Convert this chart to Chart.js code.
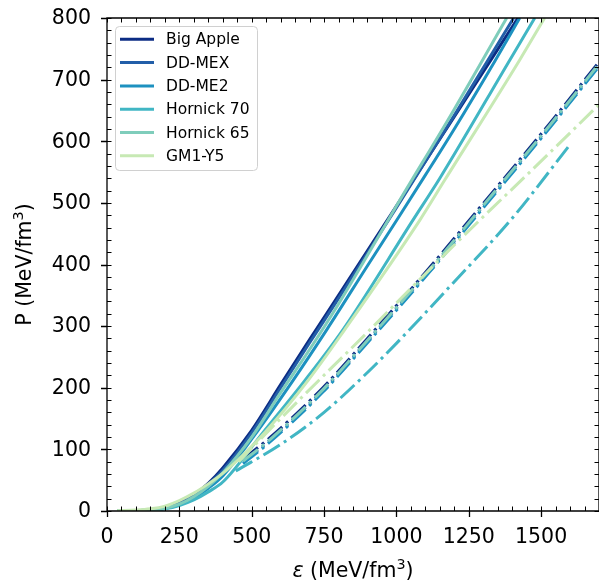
<!DOCTYPE html>
<html>
<head>
<meta charset="utf-8">
<script src="https://cdn.jsdelivr.net/npm/chart.js@4.4.1/dist/chart.umd.min.js"></script>
<style>
html, body { margin: 0; padding: 0; background: #fff; }
#wrap { width: 599px; height: 581px; }
</style>
</head>
<body>
<div id="wrap"><canvas id="chart" width="599" height="581"></canvas></div>
<script>
// Data: [energy density eps (MeV/fm^3), pressure P (MeV/fm^3)]
const models = ['Big Apple', 'DD-MEX', 'DD-ME2', 'Hornick 70', 'Hornick 65', 'GM1-Y5'];

const bigApple = [[35,0.3],[100,0.8],[150,1.5],[200,5],[250,13],[300,26],[350,45],[400,70],[500,131],[600,205],[700,278],[800,350],[1000,495],[1200,640],[1420,800]];
const ddMex = [[35,0.3],[100,0.8],[150,1.5],[200,4.5],[250,12],[300,24],[350,43],[400,66],[500,127],[600,200],[700,273],[800,345],[1000,492],[1200,642],[1405,800]];
const ddMe2 = [[35,0.3],[100,0.8],[150,1.5],[200,4],[250,10],[300,21],[350,37],[400,57],[522,131],[643,212],[759,294],[900,398],[1012,480],[1100,545],[1200,620],[1340,730],[1426,800]];
const hornick70 = [[35,0.2],[100,0.6],[150,1.2],[200,3.5],[250,9],[300,18],[350,31],[400,47],[540,128],[684,212],[815,294],[1057,472],[1150,540],[1392,732],[1478,800]];
const hornick65 = [[35,0.3],[100,0.8],[150,1.5],[200,4.5],[250,11],[300,23],[350,40],[400,62],[500,120],[600,192],[700,262],[800,336],[900,415],[1000,495],[1200,652],[1381,800]];
const gm1y5 = [[35,0.5],[100,1.5],[150,3.5],[200,8],[250,17],[300,29],[350,44],[400,61],[450,82],[550,130],[695,212],[821,294],[1081,472],[1167,537],[1426,732],[1512,800]];

// dash-dot branches
const bigAppleDash = [[470,84],[563,119],[746,200],[900,280],[1115,395],[1300,499],[1530,629],[1699,728]];
const ddMexDash = [[470,80],[563,115],[746,196],[900,276],[1115,391],[1300,495],[1530,625],[1699,724]];
const ddMe2Dash = [[470,77],[563,112],[746,193],[900,273],[1115,388],[1300,492],[1530,622],[1699,721]];
const hornick70Dash = [[445,65],[600,108],[750,160],[874,213],[1000,272],[1184,364],[1400,475],[1599,594]];
const hornick65Dash = [[470,81],[563,116],[746,197],[900,277],[1115,392],[1300,496],[1530,626],[1699,725]];
const gm1y5Dash = [[455,80],[600,150],[760,225],[900,290],[1100,385],[1277,467],[1461,550],[1699,659]];

const solidCurves = [bigApple, ddMex, ddMe2, hornick70, hornick65, gm1y5];
const dashCurves = [bigAppleDash, ddMexDash, ddMe2Dash, hornick70Dash, hornick65Dash, gm1y5Dash];

// tick labels
const xTickVals = [0, 250, 500, 750, 1000, 1250, 1500];
const yTickVals = [0, 100, 200, 300, 400, 500, 600, 700, 800];

const colors = ['#0c2c84', '#225ea8', '#1d91c0', '#41b6c4', '#7fcdbb', '#c7e9b4'];
const FONT = 'DejaVu Sans';

function toPoints(arr) {
	return arr.map(p => ({ x: p[0], y: p[1] }));
}

// later curves on top, like matplotlib
const datasets = [];
let ord = 100;
for(let i = 0; i < models.length; i++) {
	datasets.push({
		label: models[i], data: toPoints(solidCurves[i]),
		borderColor: colors[i], borderWidth: 3, pointRadius: 0,
		cubicInterpolationMode: 'monotone', order: ord--
	});
	datasets.push({
		label: models[i] + ' dash', data: toPoints(dashCurves[i]),
		borderColor: colors[i], borderWidth: 3, pointRadius: 0,
		borderDash: [19, 5, 3, 5], borderCapStyle: 'butt',
		cubicInterpolationMode: 'monotone', order: ord--
	});
}

// Spines + ticks, matplotlib-like
const frame = {
	id: 'frame',
	afterDraw(chart) {
		const { ctx, chartArea: a, scales: { x, y } } = chart;
		ctx.save();
		ctx.strokeStyle = '#000';
		ctx.lineWidth = 1.3;
		ctx.beginPath();
		ctx.rect(a.left, a.top, a.right - a.left, a.bottom - a.top);
		ctx.stroke();

		ctx.lineWidth = 1;
		ctx.beginPath();
		for(let v = 0; v <= 1700; v += 50) {
			const px = Math.round(x.getPixelForValue(v)) + 0.5;
			ctx.moveTo(px, a.bottom); ctx.lineTo(px, a.bottom - 4.5);
			ctx.moveTo(px, a.top); ctx.lineTo(px, a.top + 4.5);
		}
		for(let v = 0; v <= 800; v += 20) {
			const py = Math.round(y.getPixelForValue(v)) + 0.5;
			ctx.moveTo(a.left, py); ctx.lineTo(a.left + 4.5, py);
			ctx.moveTo(a.right, py); ctx.lineTo(a.right - 4.5, py);
		}
		ctx.stroke();

		ctx.lineWidth = 1.3;
		ctx.beginPath();
		for(const v of xTickVals) {
			const px = Math.round(x.getPixelForValue(v)) + 0.5;
			ctx.moveTo(px, a.bottom); ctx.lineTo(px, a.bottom + 6);
		}
		for(const v of yTickVals) {
			const py = Math.round(y.getPixelForValue(v)) + 0.5;
			ctx.moveTo(a.left, py); ctx.lineTo(a.left - 6, py);
		}
		ctx.stroke();
		ctx.restore();
	}
};

// Axis titles with superscript
function drawUnitLabel(ctx, prefix, italicPrefix, rest, size) {
	const supSize = size * 0.7;
	ctx.font = 'italic ' + size + 'px ' + FONT;
	const w0 = italicPrefix ? ctx.measureText(italicPrefix).width : 0;
	ctx.font = size + 'px ' + FONT;
	const w1 = ctx.measureText(prefix).width;
	ctx.font = supSize + 'px ' + FONT;
	const w2 = ctx.measureText('3').width;
	ctx.font = size + 'px ' + FONT;
	const w3 = ctx.measureText(rest).width;
	let cx = -(w0 + w1 + w2 + w3) / 2;
	ctx.textBaseline = 'alphabetic';
	ctx.textAlign = 'left';
	if(italicPrefix) {
		ctx.font = 'italic ' + size + 'px ' + FONT;
		ctx.fillText(italicPrefix, cx, 0);
		cx += w0;
	}
	ctx.font = size + 'px ' + FONT;
	ctx.fillText(prefix, cx, 0);
	cx += w1;
	ctx.font = supSize + 'px ' + FONT;
	ctx.fillText('3', cx, -size * 0.38);
	cx += w2;
	ctx.font = size + 'px ' + FONT;
	ctx.fillText(rest, cx, 0);
}

const axisTitles = {
	id: 'axisTitles',
	afterDraw(chart) {
		const { ctx, chartArea: a } = chart;
		ctx.save();
		ctx.fillStyle = '#000';
		ctx.translate((a.left + a.right) / 2, 577);
		drawUnitLabel(ctx, ' (MeV/fm', '\u03b5', ')', 20.5);
		ctx.restore();

		ctx.save();
		ctx.fillStyle = '#000';
		ctx.translate(31, (a.top + a.bottom) / 2);
		ctx.rotate(-Math.PI / 2);
		drawUnitLabel(ctx, 'P (MeV/fm', '', ')', 20.5);
		ctx.restore();
	}
};

// Legend inside the axes (upper left)
const insideLegend = {
	id: 'insideLegend',
	afterDraw(chart) {
		const ctx = chart.ctx;
		ctx.save();
		ctx.beginPath();
		ctx.roundRect(115.5, 26.5, 142, 144, 4);
		ctx.fillStyle = 'rgba(255,255,255,0.8)';
		ctx.fill();
		ctx.strokeStyle = '#d0d0d0';
		ctx.lineWidth = 1;
		ctx.stroke();
		ctx.font = '15.5px ' + FONT;
		ctx.textBaseline = 'middle';
		ctx.textAlign = 'left';
		for(let i = 0; i < models.length; i++) {
			const yy = 39.3 + i * 23.3;
			ctx.strokeStyle = colors[i];
			ctx.lineWidth = 3;
			ctx.beginPath();
			ctx.moveTo(120, yy); ctx.lineTo(154, yy);
			ctx.stroke();
			ctx.fillStyle = '#000';
			ctx.fillText(models[i], 166, yy + 1);
		}
		ctx.restore();
	}
};

const tickFont = { family: FONT, size: 20.5 };

new Chart(document.getElementById('chart'), {
	type: 'line',
	data: { datasets: datasets },
	options: {
		responsive: false,
		animation: false,
		layout: { padding: { top: 18, right: 0, left: 0, bottom: 0 } },
		plugins: { legend: { display: false }, tooltip: { enabled: false } },
		elements: { line: { fill: false } },
		scales: {
			x: {
				type: 'linear', min: 0, max: 1700,
				afterBuildTicks(s) { s.ticks = xTickVals.map(v => ({ value: v })); },
				ticks: { padding: 14, color: '#000', font: tickFont, maxRotation: 0, autoSkip: false, callback: v => String(v) },
				grid: { display: false, drawTicks: false },
				border: { display: false },
				afterFit(s) { s.height = 70; s.paddingLeft = 0; s.paddingRight = 0; }
			},
			y: {
				type: 'linear', min: 0, max: 800,
				afterBuildTicks(s) { s.ticks = yTickVals.map(v => ({ value: v })); },
				ticks: { padding: 16, labelOffset: 1, color: '#000', font: tickFont, callback: v => String(v) },
				grid: { display: false, drawTicks: false },
				border: { display: false },
				afterFit(s) { s.width = 107; s.paddingTop = 0; s.paddingBottom = 0; }
			}
		}
	},
	plugins: [frame, axisTitles, insideLegend]
});
</script>
</body>
</html>
